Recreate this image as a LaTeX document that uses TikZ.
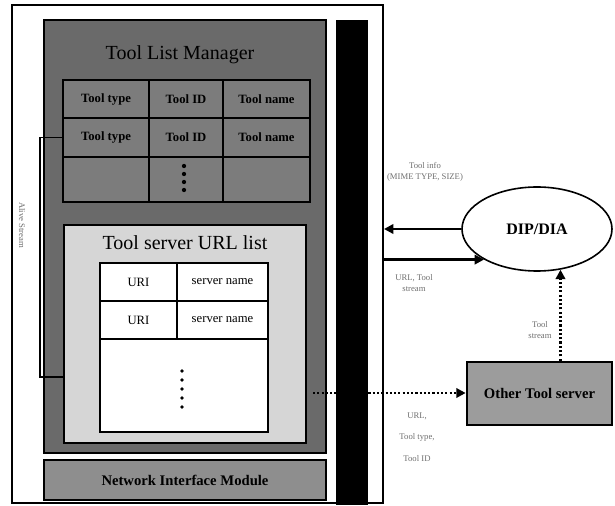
\documentclass[tikz,border=0pt]{standalone}
\usepackage{fontspec}
\setmainfont{Liberation Serif}
\usepackage{tikz}
\usetikzlibrary{fit,arrows.meta,shapes.geometric}
\definecolor{MgrGray}{HTML}{6A6A6A}
\definecolor{CellGray}{HTML}{7C7C7C}
\definecolor{ListGray}{HTML}{D6D6D6}
\definecolor{NimGray}{HTML}{8E8E8E}
\definecolor{OtsGray}{HTML}{9C9C9C}
\definecolor{NoteGray}{HTML}{6F6F6F}

\begin{document}
\begin{tikzpicture}[x=0.75pt,y=-0.75pt,
  panel/.style={draw=black,inner sep=0pt},
  cell/.style={draw=black,line width=1.6pt,fill=CellGray,inner sep=0pt},
  ucell/.style={draw=black,line width=1.3pt,fill=white,inner sep=0pt},
  celltext/.style={font=\bfseries\fontsize{9.5}{11}\selectfont},
  utext/.style={font=\fontsize{9.5}{11}\selectfont},
  bigtitle/.style={font=\fontsize{15}{17}\selectfont},
  note/.style={font=\fontsize{6.5}{8}\selectfont,text=NoteGray,align=center},
  bigarrow/.style={line width=2.2pt,-{Triangle[length=7pt,width=7pt]}},
  dotarrow/.style={line width=2.2pt,dash pattern=on 1.6pt off 1.6pt,-{Triangle[length=7pt,width=7pt]}}]
\useasboundingbox (0,0) rectangle (615,506);
\node[panel,line width=1.5pt,fill=white,fit={(12,5) (383,503)}] (frame) {};
\node[panel,line width=1pt,fill=MgrGray,fit={(44,20) (326,453)}] (mgr) {};
\node[celltext,font=\fontsize{15}{17}\selectfont] (mgrtitle) at (180,55) {Tool List Manager};
\foreach \r/\ya/\yb in {1/80/118,2/118/157,3/157/202}
  \foreach \c/\xa/\xb in {1/63/149,2/149/223,3/223/310}
    \node[cell,fit={(\xa,\ya) (\xb,\yb)}] (t\r\c) {};
\node[celltext] (l11) at (t11) {Tool type};
\node[celltext] (l12) at (t12) {Tool ID};
\node[celltext] (l13) at (t13) {Tool name};
\node[celltext] (l21) at (t21) {Tool type};
\node[celltext] (l22) at (t22) {Tool ID};
\node[celltext] (l23) at (t23) {Tool name};
\foreach \yy in {166,174,182,190}
  \fill (184,\yy) circle (1.6pt);
\node[panel,line width=1pt,fill=ListGray,fit={(64,225) (306,443)}] (url) {};
\node[bigtitle] (urltitle) at (185,243) {Tool server URL list};
\node[ucell,fit={(100,263) (177,301)}] (u11) {};
\node[ucell,fit={(177,263) (268,301)}] (u12) {};
\node[ucell,fit={(100,301) (177,339)}] (u21) {};
\node[ucell,fit={(177,301) (268,339)}] (u22) {};
\node[ucell,fit={(100,339) (268,432)}] (u3) {};
\node[utext] (ul11) at (u11) {URI};
\node[utext] (ul12) at (u12) {server name};
\node[utext] (ul21) at (u21) {URI};
\node[utext] (ul22) at (u22) {server name};
\foreach \yy in {371,380,389,398,407}
  \fill (182,\yy) circle (1.4pt);
\node[panel,line width=1pt,fill=NimGray,fit={(44,460) (326,500)},
  label={[celltext,font=\bfseries\fontsize{11}{13}\selectfont]center:Network Interface Module}] (nim) {};
\node[fill=black,inner sep=0pt,fit={(336,20) (368,505)}] (bar) {};
\coordinate (brk) at (40,377);
\draw[line width=1.4pt] (t21.west) -| (brk) -- (brk -| url.west);
\node[note,rotate=-90] (alive) at (22,225) {Alive Stream};
\node[draw,ellipse,line width=1.2pt,minimum width=112.5pt,minimum height=63pt,inner sep=0pt,
  font=\bfseries\fontsize{12}{14}\selectfont] (dip) at (537,229) {DIP/DIA};
\node[panel,line width=2pt,fill=OtsGray,fit={(467,362) (612,425)},
  label={[font=\bfseries\fontsize{11}{13}\selectfont]center:Other Tool server}] (ots) {};
\draw[bigarrow] (dip.west) -- (frame.east |- dip.west);
\draw[bigarrow] (frame.east |- dip.210) -- (dip.210);
\coordinate (dotstart) at (313,393);
\draw[dotarrow] (dotstart) -- (dotstart -| ots.west);
\draw[dotarrow] (ots.north -| dip.300) -- (dip.300);
\node[note] (info) at (425,172) {Tool info\\(MIME TYPE, SIZE)};
\node[note] (urlstream) at (414,283) {URL, Tool\\stream};
\node[note] (toolstream) at (540,330) {Tool\\stream};
\node[note,align=center] (urltype) at (417,437) {URL,\\[8pt]Tool type,\\[8pt]Tool ID};
\end{tikzpicture}
\end{document}
